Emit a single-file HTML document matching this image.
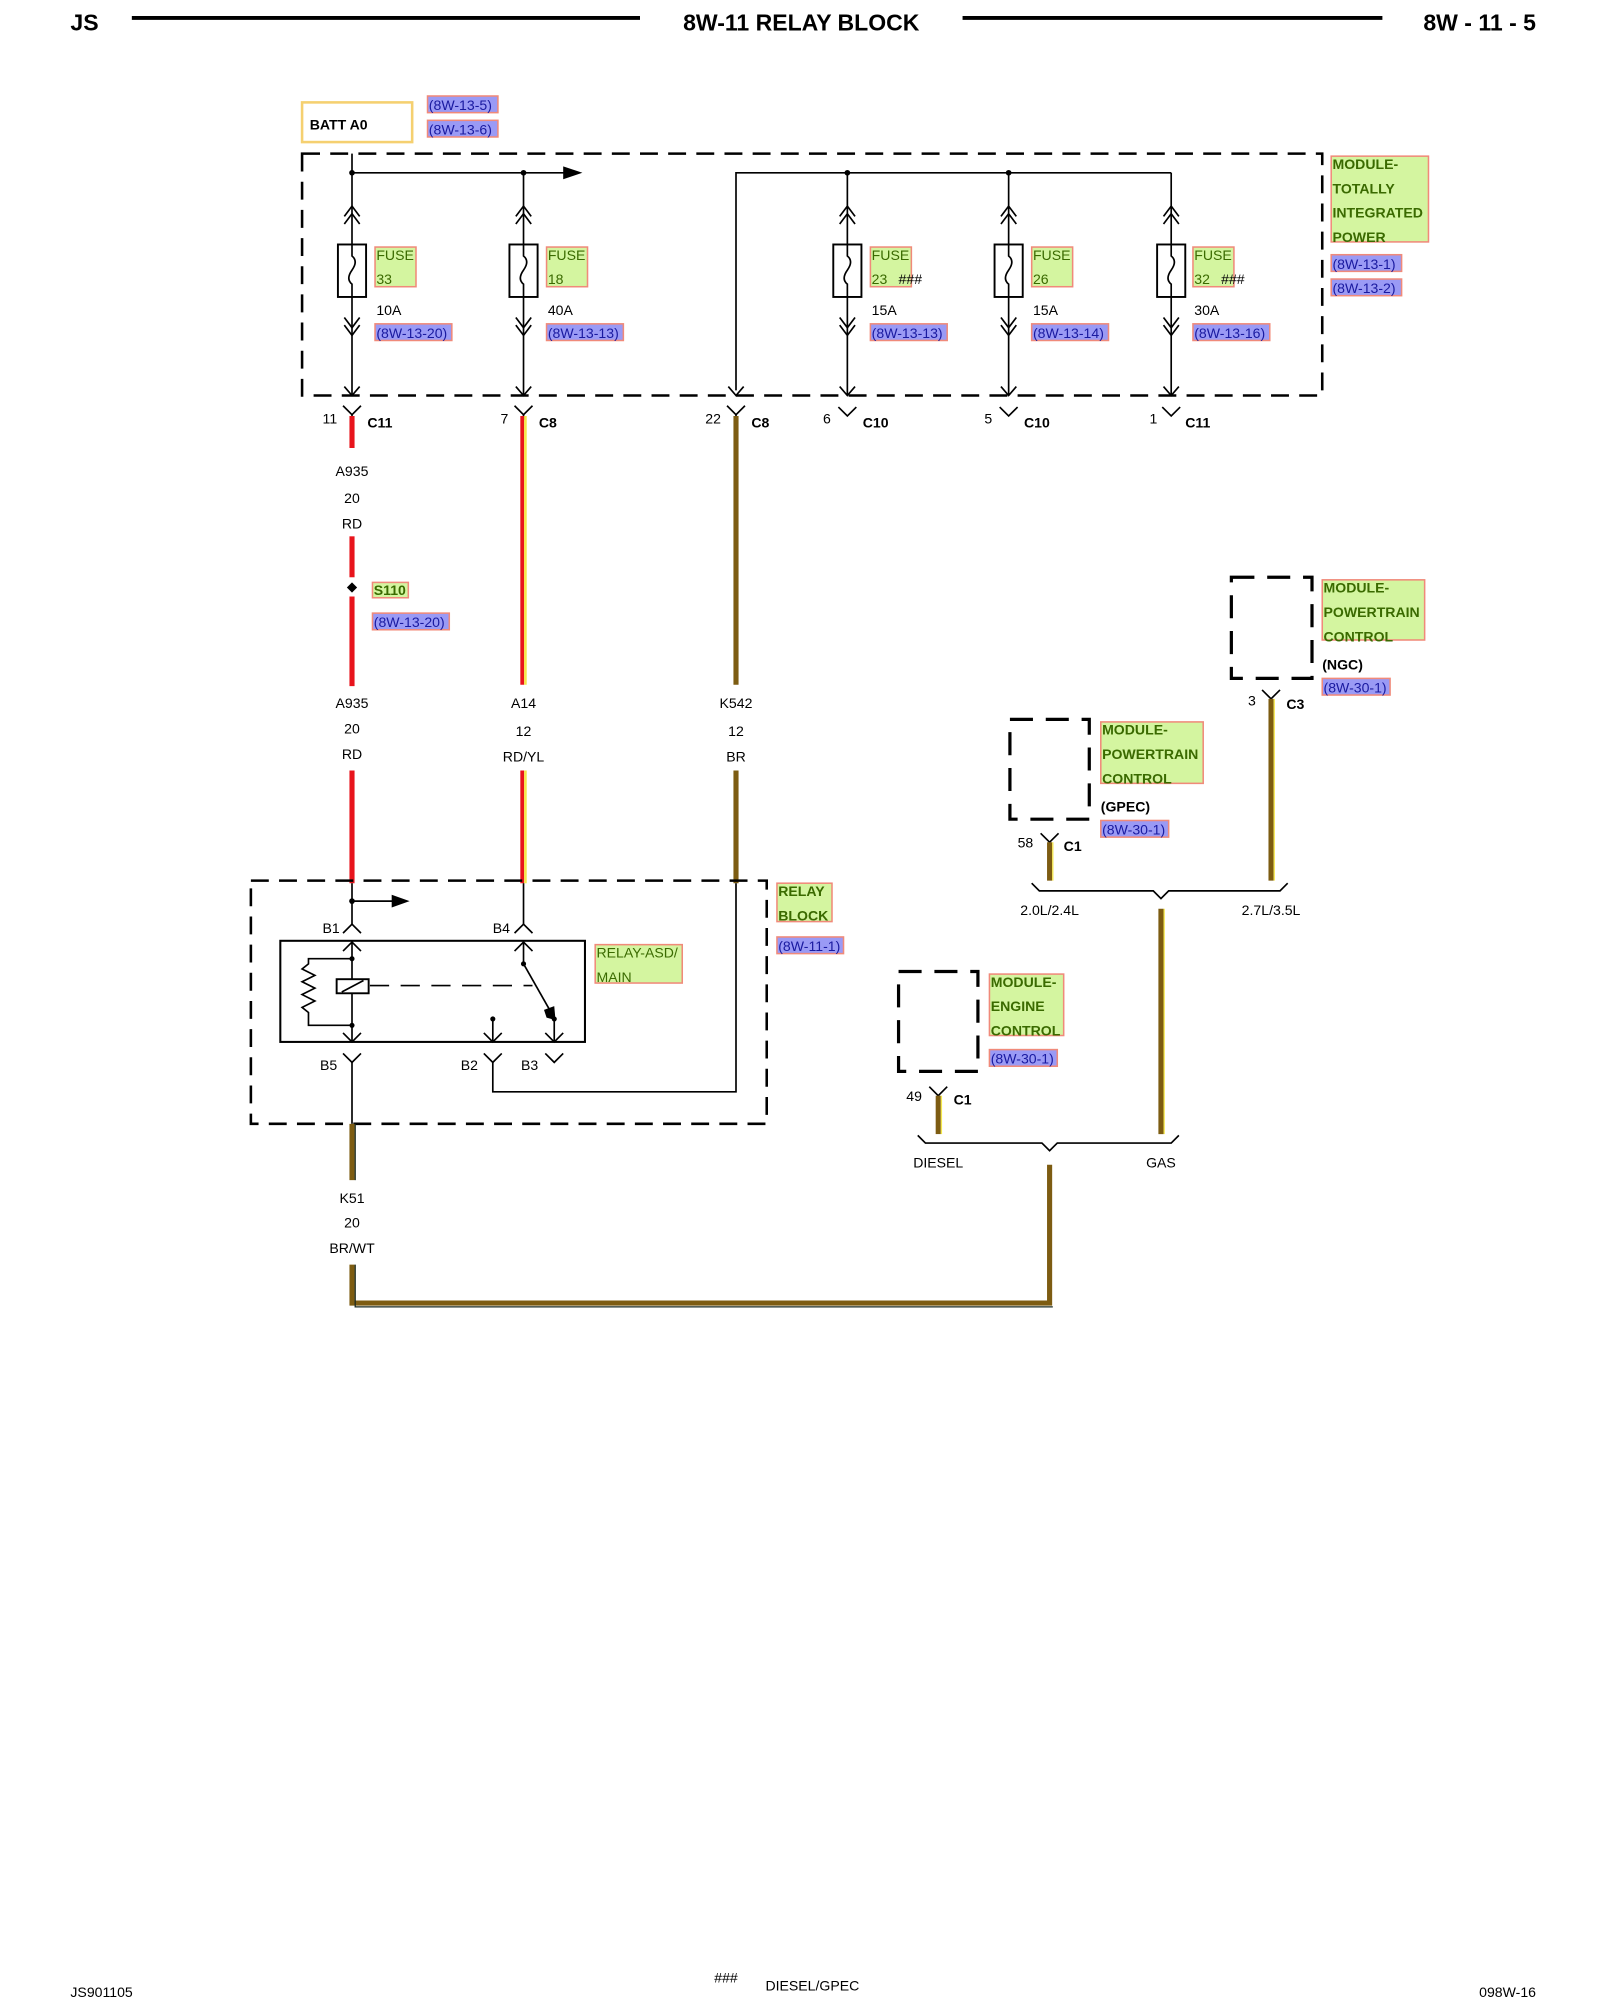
<!DOCTYPE html>
<html><head><meta charset="utf-8"><style>
html,body{margin:0;padding:0;background:#fff}
svg{display:block}
text{font-family:"Liberation Sans",Arial,sans-serif}
.t{font-size:11px;fill:#000}
.b{font-size:11px;font-weight:bold;fill:#000}
.g{font-size:11px;fill:#3a6a00}
.gb{font-size:11px;font-weight:bold;fill:#3a6a00}
.r{font-size:11px;fill:#1a1aa0}
.gbox{fill:#d4f5a0;stroke:#f08a7a;stroke-width:1.2}
.rbox{fill:#9a9af5;stroke:#f08a7a;stroke-width:1.2}
.ln{stroke:#000;stroke-width:1.3;fill:none}
.dash{stroke:#000;stroke-width:2;fill:none;stroke-dasharray:14 8}
</style></head><body>
<svg width="1600" height="2000" viewBox="0 0 1250 1562.5" xmlns="http://www.w3.org/2000/svg">
<defs>
<g id="fuse">
<line class="ln" x1="0" y1="135" x2="0" y2="309"/>
<polyline class="ln" points="-6,169 0,161 6,169"/>
<polyline class="ln" points="-6,175 0,167 6,175"/>
<rect x="-11" y="191" width="22" height="41" fill="#fff" stroke="#000" stroke-width="1.5"/>
<path d="M0,191 L0,200 Q5,204 0,211 Q-5,218 0,222 L0,232" class="ln"/>
<polyline class="ln" points="-6,248 0,256 6,248"/>
<polyline class="ln" points="-6,254 0,262 6,254"/>
<polyline class="ln" points="-6,302 0,309 6,302"/>
</g>
<g id="yconn"><polyline class="ln" points="-7,317 0,324 7,317"/><line class="ln" x1="0" y1="324" x2="0" y2="328"/></g>
<g id="vconn"><polyline class="ln" points="-7,318 0,325 7,318"/></g>
</defs>

<text x="55" y="24" style="font-size:18px;font-weight:bold">JS</text>
<line x1="103" y1="14" x2="500" y2="14" stroke="#000" stroke-width="3"/>
<text x="626" y="24" text-anchor="middle" style="font-size:18px;font-weight:bold">8W-11 RELAY BLOCK</text>
<line x1="752" y1="14" x2="1080" y2="14" stroke="#000" stroke-width="3"/>
<text x="1200" y="24" text-anchor="end" style="font-size:18px;font-weight:bold">8W - 11 - 5</text>

<rect x="236" y="80" width="86" height="31" fill="none" stroke="#f5d070" stroke-width="2"/>
<text x="242" y="101" class="b">BATT A0</text>
<rect x="334" y="75" width="55" height="13" class="rbox"/><text x="335" y="86" class="r">(8W-13-5)</text>
<rect x="334" y="94" width="55" height="13" class="rbox"/><text x="335" y="105" class="r">(8W-13-6)</text>

<rect x="236" y="120" width="797" height="189" class="dash"/>
<line class="ln" x1="275" y1="120" x2="275" y2="135"/>
<line class="ln" x1="275" y1="135" x2="443" y2="135"/>
<polygon points="440,130 455,135 440,140" fill="#000"/>
<circle cx="275" cy="135" r="2.2"/><circle cx="409" cy="135" r="2.2"/>
<polyline class="ln" points="575,305 575,135 915,135"/>
<polyline class="ln" points="569,302 575,309 581,302"/>
<circle cx="662" cy="135" r="2.2"/><circle cx="788" cy="135" r="2.2"/>

<use href="#fuse" x="275"/><use href="#fuse" x="409"/><use href="#fuse" x="662"/><use href="#fuse" x="788"/><use href="#fuse" x="915"/>

<rect x="293" y="193" width="32" height="31" class="gbox"/><text x="294" y="203" class="g">FUSE</text><text x="294" y="222" class="g">33</text>
<text x="294" y="246" class="t">10A</text><rect x="293" y="253" width="60" height="13" class="rbox"/><text x="294" y="264" class="r">(8W-13-20)</text>

<rect x="427" y="193" width="32" height="31" class="gbox"/><text x="428" y="203" class="g">FUSE</text><text x="428" y="222" class="g">18</text>
<text x="428" y="246" class="t">40A</text><rect x="427" y="253" width="60" height="13" class="rbox"/><text x="428" y="264" class="r">(8W-13-13)</text>

<rect x="680" y="193" width="32" height="31" class="gbox"/><text x="681" y="203" class="g">FUSE</text><text x="681" y="222" class="g">23</text><text x="702" y="222" class="t">###</text>
<text x="681" y="246" class="t">15A</text><rect x="680" y="253" width="60" height="13" class="rbox"/><text x="681" y="264" class="r">(8W-13-13)</text>

<rect x="806" y="193" width="32" height="31" class="gbox"/><text x="807" y="203" class="g">FUSE</text><text x="807" y="222" class="g">26</text>
<text x="807" y="246" class="t">15A</text><rect x="806" y="253" width="60" height="13" class="rbox"/><text x="807" y="264" class="r">(8W-13-14)</text>

<rect x="932" y="193" width="32" height="31" class="gbox"/><text x="933" y="203" class="g">FUSE</text><text x="933" y="222" class="g">32</text><text x="954" y="222" class="t">###</text>
<text x="933" y="246" class="t">30A</text><rect x="932" y="253" width="60" height="13" class="rbox"/><text x="933" y="264" class="r">(8W-13-16)</text>

<rect x="1040" y="122" width="76" height="67" class="gbox"/>
<text x="1041" y="132" class="gb">MODULE-</text><text x="1041" y="151" class="gb">TOTALLY</text><text x="1041" y="170" class="gb">INTEGRATED</text><text x="1041" y="189" class="gb">POWER</text>
<rect x="1040" y="199" width="55" height="13" class="rbox"/><text x="1041" y="210" class="r">(8W-13-1)</text>
<rect x="1040" y="218" width="55" height="13" class="rbox"/><text x="1041" y="229" class="r">(8W-13-2)</text>

<use href="#yconn" x="275"/><use href="#yconn" x="409"/><use href="#yconn" x="575"/>
<use href="#vconn" x="662"/><use href="#vconn" x="788"/><use href="#vconn" x="915"/>
<text x="252" y="331" class="t">11</text><text x="287" y="334" class="b">C11</text>
<text x="391" y="331" class="t">7</text><text x="421" y="334" class="b">C8</text>
<text x="551" y="331" class="t">22</text><text x="587" y="334" class="b">C8</text>
<text x="643" y="331" class="t">6</text><text x="674" y="334" class="b">C10</text>
<text x="769" y="331" class="t">5</text><text x="800" y="334" class="b">C10</text>
<text x="898" y="331" class="t">1</text><text x="926" y="334" class="b">C11</text>

<g stroke="#e8141c" stroke-width="4">
<line x1="275" y1="325" x2="275" y2="350"/><line x1="275" y1="419" x2="275" y2="451"/><line x1="275" y1="466" x2="275" y2="536"/><line x1="275" y1="602" x2="275" y2="690"/>
</g>
<polygon points="275,455 279,459 275,463 271,459" fill="#000"/>
<rect x="291" y="455" width="28" height="12" class="gbox"/><text x="292" y="465" class="gb">S110</text>
<rect x="291" y="479" width="60" height="13" class="rbox"/><text x="292" y="490" class="r">(8W-13-20)</text>
<text x="275" y="372" class="t" text-anchor="middle">A935</text><text x="275" y="393" class="t" text-anchor="middle">20</text><text x="275" y="413" class="t" text-anchor="middle">RD</text>
<text x="275" y="553" class="t" text-anchor="middle">A935</text><text x="275" y="573" class="t" text-anchor="middle">20</text><text x="275" y="593" class="t" text-anchor="middle">RD</text>

<g><line x1="408" y1="325" x2="408" y2="535" stroke="#e8141c" stroke-width="3"/><line x1="410.5" y1="325" x2="410.5" y2="535" stroke="#f5e84a" stroke-width="2"/>
<line x1="408" y1="602" x2="408" y2="690" stroke="#e8141c" stroke-width="3"/><line x1="410.5" y1="602" x2="410.5" y2="690" stroke="#f5e84a" stroke-width="2"/></g>
<text x="409" y="553" class="t" text-anchor="middle">A14</text><text x="409" y="575" class="t" text-anchor="middle">12</text><text x="409" y="595" class="t" text-anchor="middle">RD/YL</text>

<line x1="575" y1="325" x2="575" y2="535" stroke="#7d5c12" stroke-width="4"/>
<line x1="575" y1="602" x2="575" y2="690" stroke="#7d5c12" stroke-width="4"/>
<text x="575" y="553" class="t" text-anchor="middle">K542</text><text x="575" y="575" class="t" text-anchor="middle">12</text><text x="575" y="595" class="t" text-anchor="middle">BR</text>

<rect x="196" y="688" width="403" height="190" class="dash"/>
<rect x="607" y="690" width="43" height="30" class="gbox"/><text x="608" y="700" class="gb">RELAY</text><text x="608" y="719" class="gb">BLOCK</text>
<rect x="607" y="732" width="52" height="13" class="rbox"/><text x="608" y="743" class="r">(8W-11-1)</text>
<line class="ln" x1="275" y1="690" x2="275" y2="722"/>
<circle cx="275" cy="704" r="2.2"/>
<line class="ln" x1="275" y1="704" x2="308" y2="704"/><polygon points="306,699 320,704 306,709" fill="#000"/>
<polyline class="ln" points="268,729 275,722 282,729"/>
<text x="252" y="729" class="t">B1</text>
<line class="ln" x1="409" y1="690" x2="409" y2="722"/>
<polyline class="ln" points="402,729 409,722 416,729"/>
<text x="385" y="729" class="t">B4</text>
<rect x="219" y="735" width="238" height="79" fill="none" stroke="#000" stroke-width="1.6"/>
<rect x="465" y="738" width="68" height="30" class="gbox"/><text x="466" y="748" class="g">RELAY-ASD/</text><text x="466" y="767" class="g">MAIN</text>
<line class="ln" x1="275" y1="735" x2="275" y2="814"/>
<polyline class="ln" points="268,743 275,736 282,743"/>
<polyline class="ln" points="268,807 275,814 282,807"/>
<circle cx="275" cy="749" r="2"/><circle cx="275" cy="801" r="2"/>
<polyline class="ln" points="275,749 241,749 241,753 236,757 246,762 236,767 246,772 236,777 246,782 236,787 241,791 241,801 275,801"/>
<rect x="263" y="765" width="25" height="11" fill="#fff" stroke="#000" stroke-width="1.5"/>
<line class="ln" x1="267" y1="775" x2="284" y2="766"/>
<line x1="289" y1="770" x2="416" y2="770" stroke="#000" stroke-width="1.3" stroke-dasharray="15 9"/>
<line class="ln" x1="409" y1="735" x2="409" y2="753"/>
<polyline class="ln" points="402,743 409,736 416,743"/>
<circle cx="409" cy="753" r="2"/>
<line class="ln" x1="409" y1="753" x2="430" y2="790"/>
<polygon points="427,795 434,797 433,786 425,789" fill="#000"/>
<circle cx="433" cy="796" r="2"/>
<line class="ln" x1="433" y1="796" x2="433" y2="814"/>
<polyline class="ln" points="426,807 433,814 440,807"/>
<circle cx="385" cy="796" r="2"/>
<line class="ln" x1="385" y1="796" x2="385" y2="814"/>
<polyline class="ln" points="378,807 385,814 392,807"/>
<polyline class="ln" points="268,823 275,830 282,823"/><line class="ln" x1="275" y1="830" x2="275" y2="878"/>
<text x="250" y="836" class="t">B5</text>
<polyline class="ln" points="378,823 385,830 392,823"/>
<polyline class="ln" points="385,830 385,853 575,853 575,690"/>
<text x="360" y="836" class="t">B2</text>
<polyline class="ln" points="426,823 433,830 440,823"/>
<text x="407" y="836" class="t">B3</text>

<line x1="275" y1="878" x2="275" y2="922" stroke="#7d5c12" stroke-width="4"/>
<line x1="277.5" y1="878" x2="277.5" y2="922" stroke="#1a2a20" stroke-width="1"/>
<text x="275" y="940" class="t" text-anchor="middle">K51</text><text x="275" y="959" class="t" text-anchor="middle">20</text><text x="275" y="979" class="t" text-anchor="middle">BR/WT</text>
<polyline points="275,988 275,1018 820,1018 820,910" fill="none" stroke="#7d5c12" stroke-width="4"/>
<polyline points="277.5,988 277.5,1021 822.5,1021" fill="none" stroke="#1a2a20" stroke-width="1"/>

<rect x="962" y="451" width="63" height="79" class="dash" style="stroke-width:2.5;stroke-dasharray:18 10"/>
<rect x="1033" y="453" width="80" height="47" class="gbox"/>
<text x="1034" y="463" class="gb">MODULE-</text><text x="1034" y="482" class="gb">POWERTRAIN</text><text x="1034" y="501" class="gb">CONTROL</text>
<text x="1033" y="523" class="b">(NGC)</text>
<rect x="1033" y="530" width="53" height="13" class="rbox"/><text x="1034" y="541" class="r">(8W-30-1)</text>
<polyline class="ln" points="986,539 993,546 1000,539"/>
<text x="975" y="551" class="t">3</text><text x="1005" y="554" class="b">C3</text>
<line x1="993" y1="546" x2="993" y2="688" stroke="#7d5c12" stroke-width="4"/><line x1="995.5" y1="546" x2="995.5" y2="688" stroke="#f5e84a" stroke-width="1"/>

<rect x="789" y="562" width="62" height="78" class="dash" style="stroke-width:2.5;stroke-dasharray:18 10"/>
<rect x="860" y="564" width="80" height="48" class="gbox"/>
<text x="861" y="574" class="gb">MODULE-</text><text x="861" y="593" class="gb">POWERTRAIN</text><text x="861" y="612" class="gb">CONTROL</text>
<text x="860" y="634" class="b">(GPEC)</text>
<rect x="860" y="641" width="53" height="13" class="rbox"/><text x="861" y="652" class="r">(8W-30-1)</text>
<polyline class="ln" points="813,651 820,658 827,651"/>
<text x="795" y="662" class="t">58</text><text x="831" y="665" class="b">C1</text>
<line x1="820" y1="658" x2="820" y2="688" stroke="#7d5c12" stroke-width="4"/><line x1="822.5" y1="658" x2="822.5" y2="688" stroke="#f5e84a" stroke-width="1"/>
<polyline class="ln" points="806,690 812,696 901,696 907,702 913,696 1000,696 1006,690"/>
<text x="820" y="715" class="t" text-anchor="middle">2.0L/2.4L</text>
<text x="993" y="715" class="t" text-anchor="middle">2.7L/3.5L</text>
<line x1="907" y1="710" x2="907" y2="886" stroke="#7d5c12" stroke-width="4"/><line x1="909.5" y1="710" x2="909.5" y2="886" stroke="#f5e84a" stroke-width="1"/>

<rect x="702" y="759" width="62" height="78" class="dash" style="stroke-width:2.5;stroke-dasharray:18 10"/>
<rect x="773" y="761" width="58" height="48" class="gbox"/>
<text x="774" y="771" class="gb">MODULE-</text><text x="774" y="790" class="gb">ENGINE</text><text x="774" y="809" class="gb">CONTROL</text>
<rect x="773" y="820" width="53" height="13" class="rbox"/><text x="774" y="831" class="r">(8W-30-1)</text>
<polyline class="ln" points="726,849 733,856 740,849"/>
<text x="708" y="860" class="t">49</text><text x="745" y="863" class="b">C1</text>
<line x1="733" y1="856" x2="733" y2="886" stroke="#7d5c12" stroke-width="4"/><line x1="735.5" y1="856" x2="735.5" y2="886" stroke="#f5e84a" stroke-width="1"/>
<polyline class="ln" points="717,887 723,893 814,893 820,899 826,893 915,893 921,887"/>
<text x="733" y="912" class="t" text-anchor="middle">DIESEL</text>
<text x="907" y="912" class="t" text-anchor="middle">GAS</text>

<text x="55" y="1560" class="t">JS901105</text>
<text x="558" y="1549" class="t">###</text>
<text x="598" y="1555" class="t">DIESEL/GPEC</text>
<text x="1200" y="1560" class="t" text-anchor="end">098W-16</text>
</svg>
</body></html>
